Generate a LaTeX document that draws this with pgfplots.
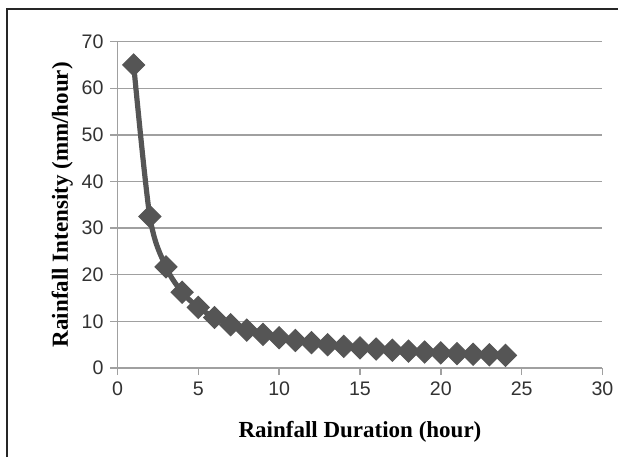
\documentclass[border=0pt]{standalone}
\usepackage{fontspec}
\setmainfont{Liberation Serif}
\newfontfamily\tickfont{Liberation Sans}
\usepackage{pgfplots}
\pgfplotsset{compat=1.18}
\definecolor{series}{RGB}{85,85,85}
\definecolor{gridc}{RGB}{160,160,160}
\definecolor{tickc}{RGB}{50,50,50}
\begin{document}
\begin{tikzpicture}
\useasboundingbox (0,0) rectangle (309pt,228.5pt);
\draw[line width=1pt, black!85] (3.5pt,0) -- (3.5pt,224pt) -- (309pt,224pt);
\begin{axis}[
  at={(58.75pt,44.5pt)}, anchor=south west,
  scale only axis,
  width=242.5pt, height=163.2pt,
  xmin=0, xmax=30, ymin=0, ymax=70,
  xtick={0,5,...,30}, ytick={0,10,...,70},
  axis x line*=bottom, axis y line*=left,
  axis line style={gridc, line width=0.7pt, -},
  ymajorgrids,
  major grid style={gridc, line width=0.7pt},
  tick align=outside,
  major tick length=3.5pt,
  tick style={gridc, line width=0.7pt},
  /pgf/number format/assume math mode=true,
  tick label style={font=\tickfont\fontsize{9.8}{11}\selectfont, text=tickc},
  xlabel={\textbf{Rainfall Duration (hour)}},
  ylabel={\textbf{Rainfall Intensity (mm/hour)}},
  label style={font=\fontsize{11.5}{13}\selectfont},
  xlabel style={at={(axis description cs:0.5,-0.196)}, anchor=center},
  ylabel style={at={(axis description cs:-0.114,0.5)}, anchor=center},
]
\addplot[series, line width=2.6pt, smooth, mark=square*, mark size=3.9pt,
  mark options={rotate=45, line width=0.5pt, fill=series}]
  coordinates {
  (1,65) (2,32.5) (3,21.67) (4,16.25) (5,13) (6,10.83) (7,9.29) (8,8.13)
  (9,7.22) (10,6.5) (11,5.91) (12,5.42) (13,5) (14,4.64) (15,4.33) (16,4.06)
  (17,3.82) (18,3.61) (19,3.42) (20,3.25) (21,3.1) (22,2.95) (23,2.83) (24,2.71)
  };
\end{axis}
\end{tikzpicture}
\end{document}
